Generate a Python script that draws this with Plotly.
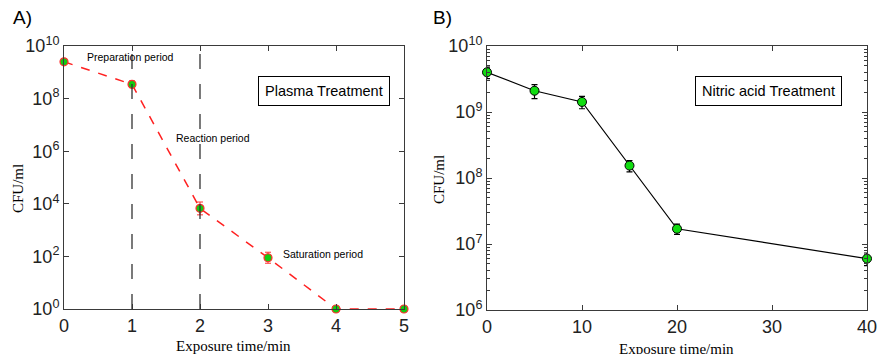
import plotly.graph_objects as go

# ---------------- data ----------------
plasma_time = [0, 1, 2, 3, 4, 5]
plasma_cfu = [2.5e9, 3.5e8, 6.7e3, 89, 1, 1]
plasma_err_plus = [0.6e9, 1.2e8, 5.0e3, 55, 0.05, 0.05]
plasma_err_minus = [0.5e9, 0.9e8, 2.9e3, 34, 0.05, 0.05]
phase_boundaries = [1, 2]

nitric_time = [0, 5, 10, 15, 20, 40]
nitric_cfu = [4.0e9, 2.1e9, 1.42e9, 1.54e8, 1.7e7, 6.0e6]
nitric_err = [0.8e9, 0.5e9, 0.3e9, 0.3e8, 0.3e7, 1.3e6]

a_ytick_exp = [0, 2, 4, 6, 8, 10]
b_ytick_exp = [6, 7, 8, 9, 10]
a_xticks = [0, 1, 2, 3, 4, 5]
b_xticks = [0, 10, 20, 30, 40]

W, H = 877, 354
SANS = "Liberation Sans, Arial, sans-serif"
SERIF = "Liberation Serif, Times New Roman, serif"
AXC = "#3a3a3a"

def px(x):
    return x / W

def py(y):
    return 1 - y / H

fig = go.Figure()

fig.add_trace(go.Scatter(
    x=plasma_time, y=plasma_cfu, mode="lines+markers",
    line=dict(color="#ff2020", dash="dash", width=1.5),
    marker=dict(color="#11cc11", size=8, line=dict(color="#ff3030", width=1.2)),
    error_y=dict(type="data", array=plasma_err_plus, arrayminus=plasma_err_minus,
                 color="#ff3030", thickness=1, width=3),
    xaxis="x", yaxis="y", showlegend=False, cliponaxis=False))

fig.add_trace(go.Scatter(
    x=nitric_time, y=nitric_cfu, mode="lines+markers",
    line=dict(color="black", width=1.2),
    marker=dict(color="#11dd11", size=9, line=dict(color="black", width=1)),
    error_y=dict(type="data", array=nitric_err, color="black", thickness=1.2, width=3),
    xaxis="x2", yaxis="y2", showlegend=False, cliponaxis=False))

def minor_vals(lo, hi):
    out = []
    for e in range(lo, hi):
        for m in range(2, 10):
            out.append(m * 10 ** e)
    return out

axis_common = dict(showgrid=False, zeroline=False, showline=True, linecolor=AXC,
                   linewidth=1, mirror="ticks", ticks="inside", tickcolor=AXC,
                   ticklen=5, automargin=False, ticklabeloverflow="allow",
                   tickfont=dict(family=SANS, size=18, color="#222"))

fig.update_layout(
    width=W, height=H, margin=dict(l=0, r=0, t=0, b=0, autoexpand=False),
    paper_bgcolor="white", plot_bgcolor="white",
    xaxis=dict(domain=[px(64), px(404)], range=[0, 5], tickvals=a_xticks,
               anchor="y", **axis_common),
    yaxis=dict(domain=[py(309), py(46)], type="log", range=[0, 10],
               tickvals=[10 ** e for e in a_ytick_exp],
               ticktext=[f"10<sup>{e}</sup>" for e in a_ytick_exp],
               anchor="x", **axis_common),
    xaxis2=dict(domain=[px(487), px(867)], range=[0, 40], tickvals=b_xticks,
                anchor="y2", **axis_common),
    yaxis2=dict(domain=[py(310), py(46)], type="log", range=[6, 10],
                tickvals=[10 ** e for e in b_ytick_exp],
                ticktext=[f"10<sup>{e}</sup>" for e in b_ytick_exp],
                minor=dict(tickvals=minor_vals(6, 10), ticks="inside", ticklen=3,
                           tickcolor=AXC, showgrid=False),
                anchor="x2", **axis_common),
)

for xb in phase_boundaries:
    fig.add_shape(type="line", xref="x", yref="y domain", x0=xb, x1=xb, y0=0, y1=1,
                  line=dict(color="#333", width=1.3, dash="longdash"))

annots = [
    dict(text="A)", x=px(11), y=py(18), size=19, family=SANS, xanchor="left"),
    dict(text="B)", x=px(431), y=py(18), size=19, family=SANS, xanchor="left"),
    dict(text="Preparation period", x=px(130), y=py(57), size=10.5, family=SANS),
    dict(text="Reaction period", x=px(213), y=py(138), size=10.5, family=SANS),
    dict(text="Saturation period", x=px(323), y=py(254), size=10.5, family=SANS),
    dict(text="Exposure time/min", x=px(233), y=py(346), size=15, family=SERIF),
    dict(text="Exposure time/min", x=px(676), y=py(349), size=15, family=SERIF),
]
for a in annots:
    fig.add_annotation(text=a["text"], xref="paper", yref="paper", x=a["x"], y=a["y"],
                       showarrow=False, xanchor=a.get("xanchor", "center"), yanchor="middle",
                       font=dict(family=a["family"], size=a["size"], color="black"))

for txt, x, y in [("CFU/ml", px(18), py(189)), ("CFU/ml", px(439), py(180))]:
    fig.add_annotation(text=txt, xref="paper", yref="paper", x=x, y=y, showarrow=False,
                       textangle=-90, xanchor="center", yanchor="middle",
                       font=dict(family=SERIF, size=15, color="black"))

for txt, x in [("Plasma Treatment", px(324)), ("Nitric acid Treatment", px(768))]:
    fig.add_annotation(text=txt, xref="paper", yref="paper", x=x, y=py(91),
                       showarrow=False, xanchor="center", yanchor="middle",
                       bordercolor="black", borderwidth=1, borderpad=6, bgcolor="white",
                       font=dict(family=SANS, size=14.5, color="black"))

fig.write_html("out.html", config={"displayModeBar": False},
               post_script="document.body.style.margin='0';document.body.style.overflow='hidden';")
